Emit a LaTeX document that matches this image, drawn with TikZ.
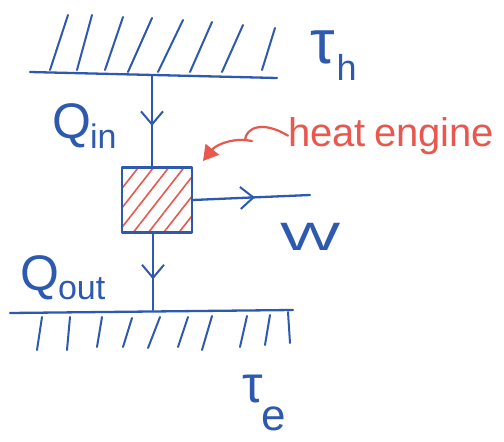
\documentclass[tikz,border=0pt]{standalone}
\usepackage{fontspec}
\setmainfont{Liberation Sans}
\usetikzlibrary{arrows.meta,decorations.markings,patterns.meta}
\definecolor{ink}{RGB}{45,90,175}
\definecolor{redink}{RGB}{232,88,78}
\begin{document}
\begin{tikzpicture}[x=1pt,y=-1pt,line cap=round,line join=round,
  pen/.style={draw=ink,line width=2.3pt},
  hatchline/.style={draw=ink,line width=2pt},
  flow/.style={pen,postaction={decorate},
    decoration={markings,mark=at position #1 with
      {\arrow[ink,line width=2pt]{Straight Barb[length=13pt,width=22pt]}}}},
  lbl/.style={text=ink,inner sep=0pt},
  big/.style={font=\fontsize{50}{54}\selectfont}]
\useasboundingbox (0,0) rectangle (504,442);

% hot reservoir wall and its hatching
\coordinate (hL) at (30,72);
\coordinate (hR) at (277,78);
\draw[pen] (hL) -- (hR);
\foreach \xa/\ya/\xb/\yb in {50/70/68/15, 77/70/92/15, 105/70/123/17, 128/72/152/18,
    158/72/183/20, 190/72/212/22, 222/72/243/25, 262/70/275/28}
  \draw[hatchline] (\xa,\ya) -- (\xb,\yb);
\coordinate (hq) at (152,76);

% cold reservoir wall and its hatching
\coordinate (cL) at (10,313);
\coordinate (cR) at (293,310);
\draw[pen] (cL) -- (cR);
\foreach \xa/\ya/\xb/\yb in {42/317/37/350, 70/317/67/350, 102/317/97/347, 132/318/123/347,
    160/317/148/348, 188/317/178/347, 212/316/202/350, 247/316/240/347,
    270/315/265/345, 288/312/290/343}
  \draw[hatchline] (\xa,\ya) -- (\xb,\yb);
\coordinate (cq) at (153,310);

% the engine
\node[draw=ink,line width=2.3pt,minimum width=70pt,minimum height=65pt,inner sep=0pt,
  pattern={Lines[angle=52,distance=12pt,line width=1.6pt]},pattern color=redink]
  (engine) at (157,200) {};

% heat and work flows
\draw[flow=0.55] (hq) -- (hq |- engine.north);
\draw[flow=0.6] (cq |- engine.south) -- (cq);
\coordinate (wend) at (310,195);
\draw[flow=0.53] (engine.east) -- (wend);

% labels
\node[lbl,big,anchor=base west] (qin) at (52,138)
  {Q\kern-1pt\raisebox{-10pt}{\fontsize{34}{34}\selectfont in}};
\node[lbl,big,anchor=base west] (qout) at (20,290)
  {Q\kern-1pt\raisebox{-9pt}{\fontsize{34}{34}\selectfont out}};
\node[lbl,anchor=base west,font=\fontsize{44}{48}\selectfont] (work) at (280,250)
  {\scalebox{1.45}[0.9]{W}};
\node[lbl,anchor=base west,font=\fontsize{62}{66}\selectfont] (th) at (310,63)
  {τ\kern2pt\raisebox{-17pt}{\fontsize{36}{36}\selectfont h}};
\node[lbl,anchor=base west,font=\fontsize{52}{56}\selectfont] (tc) at (242,402)
  {τ\kern-1pt\raisebox{-28pt}{\fontsize{44}{44}\selectfont e}};

% pointer to the engine
\node[text=redink,inner sep=0pt,anchor=base west,font=\fontsize{40}{44}\selectfont]
  (heat) at (288,146) {heat\kern8pt engine};
\coordinate (hook) at (245,140);
\coordinate (tip) at (203,161);
\draw[redink,line width=2.2pt] (heat.west) .. controls (262,120) and (246,128) .. (hook)
  -- ++(7,1);
\draw[redink,line width=2.2pt,-{Triangle[length=15pt,width=17pt]}]
  (hook) .. controls (228,139) and (215,146) .. (tip);
\end{tikzpicture}
\end{document}
